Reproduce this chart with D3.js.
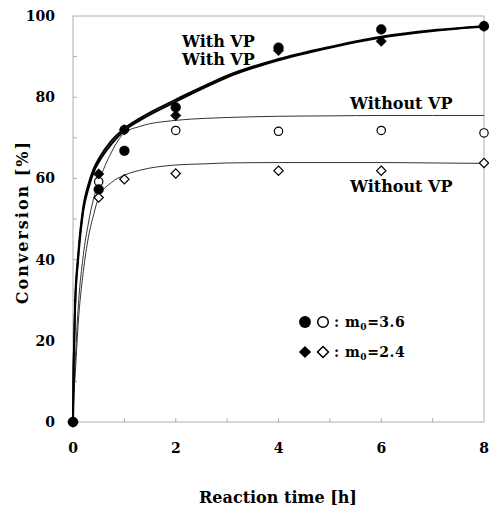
<!DOCTYPE html>
<meta charset="utf-8">
<style>
body { margin: 0; background: #fff; }
</style>
<body>
<script src="https://d3js.org/d3.v7.min.js"></script>
<script>

// measured points
var times = [0, 0.5, 1, 2, 4, 6, 8];
var withVp36 = [0, 57.3, 66.8, 77.5, 92.2, 96.7, 97.5];     // filled circles
var withVp24 = [0, 61.1, 72, 75.5, 91.5, 93.8, 97.5];       // filled diamonds
var withoutVp36 = [0, 59.2, 72, 71.8, 71.6, 71.8, 71.2];    // open circles
var withoutVp24 = [0, 55.3, 59.8, 61.2, 61.9, 61.9, 63.8];  // open diamonds

// fitted curves
var curveTimes = [0, 0.01, 0.02, 0.04, 0.1, 0.2, 0.3, 0.4, 0.5, 0.75, 1, 1.3, 2, 2.6, 3, 4, 5, 6, 7, 8];
var fitVp36 = [0, 12, 18, 28, 40, 52, 57.5, 61.5, 64, 68.5, 71.8, 74.3, 78.9, 82.6, 84.9, 89.1, 92.2, 94.7, 96.3, 97.4];
var fitVp24 = [0, 12.5, 18.5, 29, 41, 53, 58.5, 62.3, 64.8, 69.3, 72.3, 74.8, 79.4, 83, 85.3, 89.4, 92.4, 94.9, 96.5, 97.5];
var fitNoVp36 = [0, 5, 9, 14, 28, 41, 49, 55, 59, 66.5, 71.2, 72.8, 74.3, 74.8, 75, 75.3, 75.4, 75.5, 75.5, 75.5];
var fitNoVp24 = [0, 4, 7, 11, 24, 37, 45.5, 51, 55.3, 59, 60.8, 62, 63.3, 63.6, 63.8, 63.9, 63.9, 63.9, 63.8, 63.7];

var xTicks = [0, 2, 4, 6, 8];
var yTicks = [0, 20, 40, 60, 80, 100];

var width = 489, height = 509;
var margin = {top: 16, right: 5, bottom: 87, left: 73};
var w = width - margin.left - margin.right,
    h = height - margin.top - margin.bottom;

var svg = d3.select("body").append("svg")
    .attr("width", width)
    .attr("height", height)
    .attr("font-family", "'DejaVu Serif', 'Liberation Serif', serif")
    .attr("font-weight", "bold");

var g = svg.append("g")
    .attr("transform", "translate(" + margin.left + "," + margin.top + ")");

var x = d3.scaleLinear().domain([0, 8]).range([0, w]);
var y = d3.scaleLinear().domain([0, 100]).range([h, 0]);

var axisColor = "#b3aca6";

// frame
g.append("rect")
    .attr("width", w).attr("height", h)
    .attr("fill", "none").attr("stroke", axisColor).attr("stroke-width", 1);

// ticks, pointing inwards
g.selectAll(".xt").data(d3.range(1, 8))
  .enter().append("line")
    .attr("x1", d => x(d)).attr("x2", d => x(d))
    .attr("y1", h).attr("y2", h - 4)
    .attr("stroke", axisColor);
g.selectAll(".yt").data(d3.range(10, 100, 10))
  .enter().append("line")
    .attr("x1", 0).attr("x2", 4)
    .attr("y1", d => y(d)).attr("y2", d => y(d))
    .attr("stroke", axisColor);

// tick labels
g.selectAll(".xl").data(xTicks)
  .enter().append("text")
    .attr("x", d => x(d)).attr("y", h + 31)
    .attr("text-anchor", "middle")
    .style("font-size", "14px")
    .text(d => d);
g.selectAll(".yl").data(yTicks)
  .enter().append("text")
    .attr("x", -18).attr("y", d => y(d) + 5)
    .attr("text-anchor", "end")
    .style("font-size", "14px")
    .text(d => d);

// axis titles
svg.append("text")
    .attr("x", 278).attr("y", 503)
    .attr("text-anchor", "middle")
    .style("font-size", "16px")
    .text("Reaction time [h]");
svg.append("text")
    .attr("transform", "translate(28,222) rotate(-90)")
    .attr("text-anchor", "middle")
    .style("font-size", "16px")
    .style("letter-spacing", "2px")
    .text("Conversion [%]");

// curves
var line = d3.line()
    .x((d, i) => x(curveTimes[i]))
    .y(d => y(d))
    .curve(d3.curveMonotoneX);

[fitNoVp36, fitNoVp24].forEach(function(s) {
  g.append("path").attr("d", line(s))
    .attr("fill", "none").attr("stroke", "#333").attr("stroke-width", 1);
});
[fitVp36, fitVp24].forEach(function(s) {
  g.append("path").attr("d", line(s))
    .attr("fill", "none").attr("stroke", "#000").attr("stroke-width", 2);
});

// markers
var circle = d3.symbol().type(d3.symbolCircle),
    diamond = d3.symbol().type(d3.symbolDiamond2);

function marks(vals, sym, size, filled) {
  g.selectAll(null).data(vals)
    .enter().append("path")
      .attr("transform", (d, i) => "translate(" + x(times[i]) + "," + y(d) + ")")
      .attr("d", sym.size(size)())
      .attr("fill", filled ? "#000" : "#fff")
      .attr("stroke", "#000")
      .attr("stroke-width", filled ? 0.5 : 1.2);
}
marks(withoutVp24, diamond, 55, false);
marks(withoutVp36, circle, 55, false);
marks(withVp24, diamond, 70, true);
marks(withVp36, circle, 75, true);

// curve labels
var labels = [
  {t: "With VP", x: 182, y: 47},
  {t: "With VP", x: 182, y: 65},
  {t: "Without VP", x: 350, y: 109},
  {t: "Without VP", x: 350, y: 192}
];
svg.selectAll(".lab").data(labels)
  .enter().append("text")
    .attr("x", d => d.x).attr("y", d => d.y)
    .style("font-size", "16px")
    .text(d => d.t);

// legend
var legend = [
  {sym: circle, size: 110, val: "3.6", y: 322},
  {sym: diamond, size: 95, val: "2.4", y: 352}
];
legend.forEach(function(l) {
  svg.append("path").attr("transform", "translate(305," + l.y + ")")
    .attr("d", l.sym.size(l.size)()).attr("fill", "#000");
  svg.append("path").attr("transform", "translate(323," + l.y + ")")
    .attr("d", l.sym.size(l.size * 0.8)()).attr("fill", "#fff")
    .attr("stroke", "#000").attr("stroke-width", 1.5);
  var t = svg.append("text").attr("x", 334).attr("y", l.y + 5)
    .style("font-size", "14px").style("letter-spacing", "0.5px");
  t.append("tspan").text(": m");
  t.append("tspan").attr("dy", 3).style("font-size", "9px").text("0");
  t.append("tspan").attr("dy", -3).text("=" + l.val);
});

</script>
</body>
